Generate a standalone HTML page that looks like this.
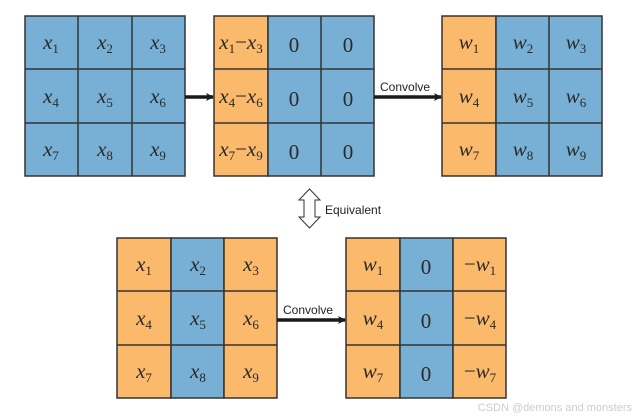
<!DOCTYPE html>
<html><head><meta charset="utf-8"><style>
html,body{margin:0;padding:0;background:#fff;}
svg{display:block;}
.m{font-family:"Liberation Serif",serif;font-style:italic;font-size:21px;fill:#2a2a2a;}
.s{font-size:13px;font-style:normal;}
.z{font-family:"Liberation Serif",serif;font-size:21px;fill:#2a2a2a;}
.l{font-family:"Liberation Sans",sans-serif;font-size:12px;fill:#222;}
</style></head><body>
<svg width="636" height="417" viewBox="0 0 636 417" xmlns="http://www.w3.org/2000/svg">
<defs>
<marker id="ah" markerWidth="8" markerHeight="8" refX="7" refY="4" orient="auto" markerUnits="userSpaceOnUse">
<path d="M0,0 L8,4 L0,8 L2,4 Z" fill="#1a1a1a"/></marker>
</defs>
<g stroke="#333" stroke-width="1.5">
<!-- grid1 -->
<rect x="25" y="16" width="160" height="160" fill="#78B0D5"/>
<!-- grid2 -->
<rect x="214" y="16" width="54" height="160" fill="#FBB96C"/>
<rect x="268" y="16" width="106" height="160" fill="#78B0D5"/>
<!-- grid3 -->
<rect x="442" y="16" width="54" height="160" fill="#FBB96C"/>
<rect x="496" y="16" width="106" height="160" fill="#78B0D5"/>
<!-- grid4 -->
<rect x="117" y="238" width="54" height="160" fill="#FBB96C"/>
<rect x="171" y="238" width="53" height="160" fill="#78B0D5"/>
<rect x="224" y="238" width="53" height="160" fill="#FBB96C"/>
<!-- grid5 -->
<rect x="346" y="238" width="54" height="160" fill="#FBB96C"/>
<rect x="400" y="238" width="53" height="160" fill="#78B0D5"/>
<rect x="453" y="238" width="53" height="160" fill="#FBB96C"/>
<path fill="none" d="
M78,16V176 M132,16V176 M25,69H185 M25,123H185
M321,16V176 M214,69H374 M214,123H374
M549,16V176 M442,69H602 M442,123H602
M117,291H277 M117,345H277
M346,291H506 M346,345H506"/>
</g>
<!-- arrows -->
<line x1="185" y1="97" x2="213" y2="97" stroke="#1a1a1a" stroke-width="3.5" marker-end="url(#ah)"/>
<line x1="374" y1="97" x2="441" y2="97" stroke="#1a1a1a" stroke-width="3.5" marker-end="url(#ah)"/>
<line x1="277" y1="320" x2="345" y2="320" stroke="#1a1a1a" stroke-width="3.5" marker-end="url(#ah)"/>
<text class="l" x="380" y="91">Convolve</text>
<text class="l" x="283" y="314">Convolve</text>
<path d="M309.5,189 L320,200 L315,200 L315,217 L320,217 L309.5,228 L299,217 L304,217 L304,200 L299,200 Z" fill="#fff" stroke="#333" stroke-width="1"/>
<text class="l" x="325" y="214">Equivalent</text>
<!-- grid1 labels -->
<g class="m" text-anchor="middle">
<text x="51" y="49">x<tspan class="s" dy="4">1</tspan></text>
<text x="105" y="49">x<tspan class="s" dy="4">2</tspan></text>
<text x="158" y="49">x<tspan class="s" dy="4">3</tspan></text>
<text x="51" y="103">x<tspan class="s" dy="4">4</tspan></text>
<text x="105" y="103">x<tspan class="s" dy="4">5</tspan></text>
<text x="158" y="103">x<tspan class="s" dy="4">6</tspan></text>
<text x="51" y="156">x<tspan class="s" dy="4">7</tspan></text>
<text x="105" y="156">x<tspan class="s" dy="4">8</tspan></text>
<text x="158" y="156">x<tspan class="s" dy="4">9</tspan></text>
<text x="241" y="49">x<tspan class="s" dy="4">1</tspan><tspan dy="-4" style="font-style:normal">−</tspan>x<tspan class="s" dy="4">3</tspan></text>
<text x="241" y="103">x<tspan class="s" dy="4">4</tspan><tspan dy="-4" style="font-style:normal">−</tspan>x<tspan class="s" dy="4">6</tspan></text>
<text x="241" y="156">x<tspan class="s" dy="4">7</tspan><tspan dy="-4" style="font-style:normal">−</tspan>x<tspan class="s" dy="4">9</tspan></text>
<text x="469" y="49">w<tspan class="s" dy="4">1</tspan></text>
<text x="523" y="49">w<tspan class="s" dy="4">2</tspan></text>
<text x="576" y="49">w<tspan class="s" dy="4">3</tspan></text>
<text x="469" y="103">w<tspan class="s" dy="4">4</tspan></text>
<text x="523" y="103">w<tspan class="s" dy="4">5</tspan></text>
<text x="576" y="103">w<tspan class="s" dy="4">6</tspan></text>
<text x="469" y="156">w<tspan class="s" dy="4">7</tspan></text>
<text x="523" y="156">w<tspan class="s" dy="4">8</tspan></text>
<text x="576" y="156">w<tspan class="s" dy="4">9</tspan></text>
<text x="144" y="271">x<tspan class="s" dy="4">1</tspan></text>
<text x="198" y="271">x<tspan class="s" dy="4">2</tspan></text>
<text x="251" y="271">x<tspan class="s" dy="4">3</tspan></text>
<text x="144" y="325">x<tspan class="s" dy="4">4</tspan></text>
<text x="198" y="325">x<tspan class="s" dy="4">5</tspan></text>
<text x="251" y="325">x<tspan class="s" dy="4">6</tspan></text>
<text x="144" y="378">x<tspan class="s" dy="4">7</tspan></text>
<text x="198" y="378">x<tspan class="s" dy="4">8</tspan></text>
<text x="251" y="378">x<tspan class="s" dy="4">9</tspan></text>
<text x="373" y="271">w<tspan class="s" dy="4">1</tspan></text>
<text x="373" y="325">w<tspan class="s" dy="4">4</tspan></text>
<text x="373" y="378">w<tspan class="s" dy="4">7</tspan></text>
<text x="480" y="271"><tspan style="font-style:normal">−</tspan>w<tspan class="s" dy="4">1</tspan></text>
<text x="480" y="325"><tspan style="font-style:normal">−</tspan>w<tspan class="s" dy="4">4</tspan></text>
<text x="480" y="378"><tspan style="font-style:normal">−</tspan>w<tspan class="s" dy="4">7</tspan></text>
</g>
<g class="z" text-anchor="middle">
<text x="294" y="52">0</text><text x="348" y="52">0</text>
<text x="294" y="106">0</text><text x="348" y="106">0</text>
<text x="294" y="159">0</text><text x="348" y="159">0</text>
<text x="426" y="274">0</text><text x="426" y="328">0</text><text x="426" y="381">0</text>
</g>
<text x="632" y="411" text-anchor="end" style="font-family:'Liberation Sans',sans-serif;font-size:11px;fill:#ccc">CSDN @demons and monsters</text>
</svg>
</body></html>
